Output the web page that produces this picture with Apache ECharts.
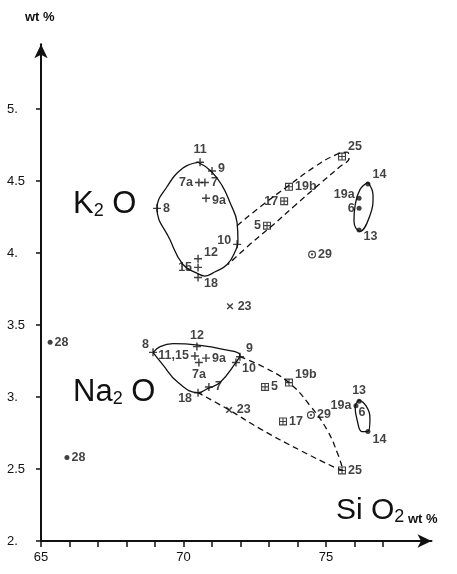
<!DOCTYPE html>
<html>
<head>
    <meta charset="utf-8">
    <title>K2O / Na2O - SiO2</title>
    <script src="https://cdn.jsdelivr.net/npm/echarts@6/dist/echarts.min.js"></script>
    <style>body{margin:0;background:#fff;}</style>
</head>
<body>
    <div id="main" style="width: 457px;height:574px;"></div>
    <script type="text/javascript">
        // axis ticks
        var xTicks = [65, 66, 67, 68, 69, 70, 71, 72, 73, 74, 75, 76, 77];
        var xLabels = [65, 70, 75];
        var yTicks = [2, 2.5, 3, 3.5, 4, 4.5, 5];

        // K2O points
        var kPlusName = ['11', '9', '7a', '7', '9a', '8', '10', '12', '15', '18'];
        var kPlusSi   = [70.58, 71.0, 70.54, 70.75, 70.79, 69.07, 71.88, 70.51, 70.51, 70.51];
        var kPlusVal  = [4.63, 4.57, 4.49, 4.49, 4.38, 4.31, 4.06, 3.96, 3.90, 3.83];
        var kBoxName = ['25', '19b', '17', '5'];
        var kBoxSi   = [75.56, 73.70, 73.53, 72.93];
        var kBoxVal  = [4.67, 4.46, 4.36, 4.19];
        var kDotName = ['14', '19a', '6', '13'];
        var kDotSi   = [76.47, 76.16, 76.16, 76.16];
        var kDotVal  = [4.48, 4.38, 4.31, 4.16];
        var kRing = [74.51, 3.99];   // 29
        var kCross = [71.63, 3.63];  // 23
        var kOdd = [65.32, 3.38];    // 28

        // Na2O points
        var nPlusName = ['8', '12', '11,15', '7a', '9a', '9', '10', '7', '18'];
        var nPlusSi   = [68.93, 70.47, 70.40, 70.54, 70.79, 71.98, 71.84, 70.89, 70.51];
        var nPlusVal  = [3.31, 3.35, 3.285, 3.24, 3.27, 3.28, 3.24, 3.07, 3.03];
        var nBoxName = ['19b', '5', '17', '25'];
        var nBoxSi   = [73.70, 72.86, 73.49, 75.56];
        var nBoxVal  = [3.10, 3.07, 2.83, 2.49];
        var nDotName = ['13', '19a', '6', '14'];
        var nDotSi   = [76.16, 76.05, 76.26, 76.47];
        var nDotVal  = [2.97, 2.94, 2.89, 2.76];
        var nRing = [74.47, 2.875];  // 29
        var nCross = [71.60, 2.91];  // 23
        var nOdd = [65.91, 2.58];    // 28

        // outlines drawn round the groups
        var kSolidSi  = [70.51, 70.96, 71.35, 71.63, 71.88, 71.91, 71.81, 71.53, 71.11, 70.75, 70.47, 69.98, 69.53, 69.07, 69.42, 69.98, 70.51];
        var kSolidVal = [4.63, 4.57, 4.47, 4.35, 4.21, 4.08, 4.01, 3.92, 3.87, 3.84, 3.86, 3.92, 4.09, 4.31, 4.46, 4.59, 4.63];
        var kDashSi  = [71.88, 72.75, 73.70, 74.61, 75.32, 75.74, 75.81, 75.49, 74.72, 73.91, 73.11, 72.33, 71.56];
        var kDashVal = [4.19, 4.33, 4.47, 4.60, 4.68, 4.70, 4.66, 4.60, 4.47, 4.33, 4.19, 4.06, 3.92];
        var kOvalSi  = [76.47, 76.65, 76.54, 76.19, 75.98, 76.02, 76.19, 76.47];
        var kOvalVal = [4.49, 4.40, 4.26, 4.15, 4.22, 4.33, 4.44, 4.49];
        var nSolidSi  = [68.93, 69.18, 69.63, 70.51, 71.39, 71.98, 71.84, 71.28, 70.86, 70.51, 69.81, 69.25, 68.93];
        var nSolidVal = [3.31, 3.35, 3.37, 3.36, 3.33, 3.29, 3.24, 3.10, 3.06, 3.03, 3.10, 3.23, 3.31];
        var nDashSi  = [71.98, 72.79, 73.70, 74.44, 75.04, 75.42, 75.60, 75.32, 74.09, 72.68, 71.60, 70.51];
        var nDashVal = [3.28, 3.21, 3.10, 2.94, 2.77, 2.60, 2.49, 2.51, 2.63, 2.78, 2.91, 3.03];
        var nOvalSi  = [76.16, 76.40, 76.54, 76.47, 76.26, 76.09, 76.02, 76.16];
        var nOvalVal = [2.98, 2.94, 2.85, 2.76, 2.76, 2.84, 2.93, 2.98];

        // where each point label sits
        var labelPlace = {
            'k11': ['top', 0, 0], 'k9': ['right', 0, -2], 'k7a': ['left', 0, 0], 'k7': ['right', 0, 0],
            'k9a': ['right', 0, 2], 'k8': ['right', 0, 0], 'k10': ['left', 0, -4], 'k12': ['right', 0, -6],
            'k15': ['left', 0, 0], 'k18': ['right', 0, 6],
            'k25': ['right', 0, -10], 'k19b': ['right', 0, 0], 'k17': ['left', 0, 0], 'k5': ['left', 0, 0],
            'k14': ['right', 0, -9], 'k19a': ['left', 0, -4], 'k6': ['left', 0, 0], 'k13': ['right', 0, 7],
            'n8': ['left', 2, -8], 'n12': ['top', 0, 1], 'n11,15': ['left', 0, 0], 'n7a': ['bottom', 0, 0],
            'n9a': ['right', 0, 0], 'n9': ['right', 0, -8], 'n10': ['right', 0, 6], 'n7': ['right', 0, 0],
            'n18': ['left', 0, 6],
            'n19b': ['right', 0, -8], 'n5': ['right', 0, 0], 'n17': ['right', 0, 0], 'n25': ['right', 0, 0],
            'n13': ['top', 0, 0], 'n19a': ['left', 0, 0], 'n6': ['inside', 0, 0], 'n14': ['right', 0, 8]
        };

        var fontFam = '"Liberation Sans Narrow", "Liberation Sans", "DejaVu Sans Condensed", sans-serif';
        var ink = '#111';
        var plusPath = 'path://M4.1,0H5.9V4.1H10V5.9H5.9V10H4.1V5.9H0V4.1H4.1Z';
        var boxPath = 'path://M0,0H10V10H0Z M1.4,1.4V4.3H4.3V1.4Z M5.7,1.4V4.3H8.6V1.4Z M1.4,5.7V8.6H4.3V5.7Z M5.7,5.7V8.6H8.6V5.7Z';
        var ringPath = 'path://M5,0A5,5,0,1,1,5,10A5,5,0,1,1,5,0Z M5,1.5A3.5,3.5,0,1,0,5,8.5A3.5,3.5,0,1,0,5,1.5Z M5,3.6A1.4,1.4,0,1,1,5,6.4A1.4,1.4,0,1,1,5,3.6Z';

        function pts(group, names, si, val) {
            var out = [];
            for (var i = 0; i < names.length; i++) {
                var p = labelPlace[group + names[i]] || ['right', 0, 0];
                var item = {
                    name: names[i],
                    value: [si[i], val[i]],
                    label: { position: p[0], offset: [p[1], p[2]] }
                };
                if (p[0] === 'inside') item.symbolSize = 0;
                out.push(item);
            }
            return out;
        }

        function single(name, v) {
            return [{ name: name, value: v, label: { position: 'right' } }];
        }

        function outline(si, val, dashed) {
            var d = [];
            for (var i = 0; i < si.length; i++) d.push([si[i], val[i]]);
            return {
                type: 'line', data: d, smooth: 0.45, symbol: 'none', silent: true,
                lineStyle: { color: ink, width: 1.3, type: dashed ? [6, 4] : 'solid' },
                z: 1
            };
        }

        var lbl = { show: true, formatter: '{b}', color: ink, fontSize: 12.5, fontWeight: 'bold', fontFamily: fontFam, distance: 2 };

        function scatter(data, symbol, size, rotate) {
            return {
                type: 'scatter', data: data, symbol: symbol, symbolSize: size, symbolRotate: rotate || 0,
                itemStyle: { color: ink }, label: lbl, z: 3
            };
        }

        var myChart = echarts.init(document.getElementById('main'));
        myChart.setOption({
            animation: false,
            backgroundColor: '#fff',
            grid: { left: 41, right: 25.5, top: 44.2, bottom: 33 },
            xAxis: {
                type: 'value', min: 65, max: 78.7,
                axisLine: { onZero: false, symbol: ['none', 'arrow'], symbolSize: [10, 14], lineStyle: { color: ink, width: 2 } },
                axisTick: { show: true, customValues: xTicks, length: 6, lineStyle: { color: ink, width: 1.5 } },
                axisLabel: { customValues: xLabels, margin: 10, fontSize: 13, color: ink, fontFamily: fontFam },
                splitLine: { show: false }
            },
            yAxis: {
                type: 'value', min: 2, max: 5.45,
                axisLine: { onZero: false, symbol: ['none', 'arrow'], symbolSize: [10, 14], lineStyle: { color: ink, width: 2 } },
                axisTick: { show: true, customValues: yTicks, length: 5, lineStyle: { color: ink, width: 1.5 } },
                axisLabel: {
                    customValues: yTicks, align: 'left', margin: 34, fontSize: 13, color: ink, fontFamily: fontFam,
                    formatter: function (v) { return v % 1 === 0 ? v + '.' : String(v); }
                },
                splitLine: { show: false }
            },
            graphic: [
                { type: 'text', left: 25, top: 11, style: { text: 'wt %', font: 'bold 13px ' + fontFam, fill: ink } },
                {
                    type: 'text', left: 73, top: 189,
                    style: {
                        text: '{a|K}{b|2}{a| O}', fill: ink,
                        rich: {
                            a: { fontSize: 31, fontFamily: fontFam, fill: ink, verticalAlign: 'bottom', lineHeight: 32 },
                            b: { fontSize: 18, fontFamily: fontFam, fill: ink, verticalAlign: 'bottom', lineHeight: 26 }
                        }
                    }
                },
                {
                    type: 'text', left: 73, top: 377,
                    style: {
                        text: '{a|Na}{b|2}{a| O}', fill: ink,
                        rich: {
                            a: { fontSize: 31, fontFamily: fontFam, fill: ink, verticalAlign: 'bottom', lineHeight: 32 },
                            b: { fontSize: 18, fontFamily: fontFam, fill: ink, verticalAlign: 'bottom', lineHeight: 26 }
                        }
                    }
                },
                {
                    type: 'text', left: 336, top: 496,
                    style: {
                        text: '{a|Si O}{b|2}{c| wt %}', fill: ink,
                        rich: {
                            a: { fontSize: 30, fontFamily: fontFam, fill: ink, verticalAlign: 'bottom', lineHeight: 32 },
                            b: { fontSize: 18, fontFamily: fontFam, fill: ink, verticalAlign: 'bottom', lineHeight: 26 },
                            c: { fontSize: 13, fontWeight: 'bold', fontFamily: fontFam, fill: ink, verticalAlign: 'bottom', lineHeight: 24 }
                        }
                    }
                }
            ],
            series: [
                outline(kSolidSi, kSolidVal, false),
                outline(kDashSi, kDashVal, true),
                outline(kOvalSi, kOvalVal, false),
                outline(nSolidSi, nSolidVal, false),
                outline(nDashSi, nDashVal, true),
                outline(nOvalSi, nOvalVal, false),
                scatter(pts('k', kPlusName, kPlusSi, kPlusVal), plusPath, 8),
                scatter(pts('k', kBoxName, kBoxSi, kBoxVal), boxPath, 8),
                scatter(pts('k', kDotName, kDotSi, kDotVal), 'circle', 5),
                scatter(single('29', kRing), ringPath, 8),
                scatter(single('23', kCross), plusPath, 8, 45),
                scatter(single('28', kOdd), 'circle', 5),
                scatter(pts('n', nPlusName, nPlusSi, nPlusVal), plusPath, 8),
                scatter(pts('n', nBoxName, nBoxSi, nBoxVal), boxPath, 8),
                scatter(pts('n', nDotName, nDotSi, nDotVal), 'circle', 5),
                scatter(single('29', nRing), ringPath, 8),
                scatter(single('23', nCross), plusPath, 8, 45),
                scatter(single('28', nOdd), 'circle', 5)
            ]
        });
    </script>
</body>
</html>
